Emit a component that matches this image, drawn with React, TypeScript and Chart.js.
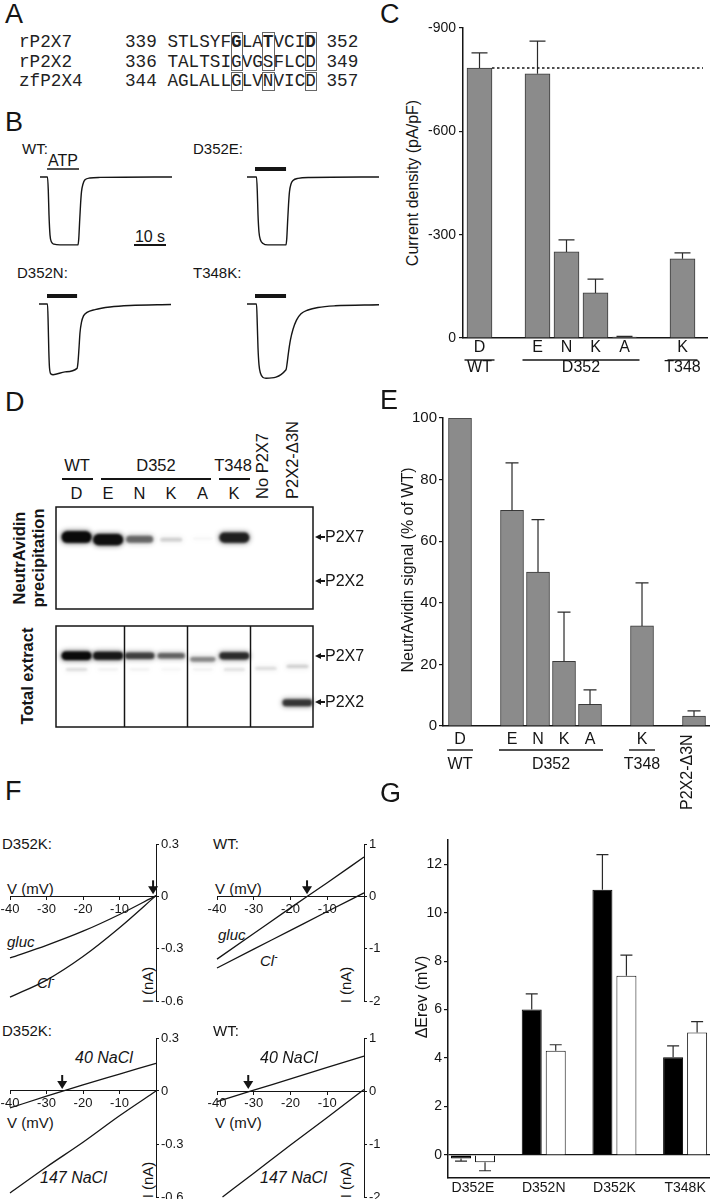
import React, { useEffect, useRef } from 'react';
import { Chart, registerables } from 'chart.js';

Chart.register(...registerables);

const SANS = '"Liberation Sans", Arial, Helvetica, sans-serif';
const MONO = '"Liberation Mono", "DejaVu Sans Mono", monospace';
const INK = '#151515';
const BAR = '#8b8b8b';
const BAR_EDGE = '#3a3a3a';
Chart.defaults.font.family = SANS;
Chart.defaults.color = INK;

// ---------- Panel A: alignment ----------
const seqNames = ['rP2X7', 'rP2X2', 'zfP2X4'];
const seqFirst = ['339', '336', '344'];
const seqLast = ['352', '349', '357'];
const seqResidues = ['STLSYFGLATVCID', 'TALTSIGVGSFLCD', 'AGLALLGLVNVICD'];
const alignedCols = [6, 9, 13];

// ---------- Panel B: ATP-evoked currents (normalised) ----------
const wtTime = [0, 2.34, 2.59, 2.81, 3.13, 3.59, 4.38, 6.25, 11.88, 12.13, 12.38, 12.66, 12.97, 13.44, 14.06, 15.63, 18.75, 41.25];
const wtCurrent = [0, 0, -0.19, -0.54, -0.83, -0.93, -0.96, -0.97, -0.97, -0.87, -0.64, -0.4, -0.21, -0.1, -0.04, -0.014, -0.006, 0];
const d352eTime = [0, 2.97, 3.22, 3.44, 3.75, 4.22, 5.0, 6.56, 12.19, 12.44, 12.69, 12.97, 13.28, 13.75, 14.38, 15.94, 19.69, 41.25];
const d352eCurrent = [0, 0, -0.21, -0.54, -0.79, -0.9, -0.95, -0.97, -0.97, -0.87, -0.64, -0.4, -0.21, -0.1, -0.05, -0.019, -0.007, 0];
const d352nTime = [0, 2.66, 2.88, 3.06, 3.28, 3.75, 4.38, 8.13, 11.88, 12.19, 12.5, 12.81, 13.28, 13.91, 15.0, 17.5, 22.19, 28.44, 41.25];
const d352nCurrent = [0, 0, -0.3, -0.66, -0.91, -1.0, -1.01, -0.97, -0.92, -0.83, -0.63, -0.41, -0.26, -0.17, -0.12, -0.08, -0.043, -0.021, -0.007];
const t348kTime = [0, 2.97, 3.22, 3.44, 3.75, 4.22, 5.0, 5.94, 12.19, 12.5, 12.97, 13.59, 14.38, 15.47, 16.88, 19.06, 22.19, 27.5, 41.25];
const t348kCurrent = [0, 0, -0.3, -0.63, -0.87, -0.99, -1.05, -1.06, -0.94, -0.86, -0.69, -0.51, -0.36, -0.23, -0.14, -0.086, -0.05, -0.026, -0.01];
const atpOn = [2.2, 2.5, 2.5, 2.5];
const atpOff = [12.2, 12.2, 11.9, 12.2];

// ---------- Panel C: current density ----------
const cCategories = ['D', '', 'E', 'N', 'K', 'A', '', 'K'];
const cDensity: (number | null)[] = [-784, null, -767, -250, -131, -3, null, -230];
const cSem: (number | null)[] = [44, null, 95, 35, 40, 2, null, 17];
const cGroupNames = ['WT', 'D352', 'T348'];
const cGroupFrom = [0, 2, 7];
const cGroupTo = [0, 5, 7];
const cYTicks = [-900, -600, -300, 0];

// ---------- Panel D: blots (band intensity 0-1, mobility in % of gel height) ----------
const blotLanes = ['D', 'E', 'N', 'K', 'A', 'K', 'No P2X7', 'P2X2-Δ3N'];
const precipP2X7 = [1.0, 0.97, 0.5, 0.14, 0.03, 0.85, 0, 0];
const precipP2X7Mobility = [29.5, 32, 31.5, 32, 31, 30, 30, 30];
const totalP2X7 = [1.0, 0.9, 0.68, 0.52, 0.38, 0.78, 0, 0];
const totalP2X7Mobility = [29.5, 29.5, 29.5, 29.5, 33, 29.5, 29.5, 29.5];
const totalMinor = [0.1, 0.04, 0.04, 0.03, 0.04, 0.09, 0.1, 0.14];
const totalMinorMobility = [43, 43, 43, 43, 43, 43, 42, 40];
const totalP2X2 = [0, 0, 0, 0, 0, 0, 0, 0.72];
const totalP2X2Mobility = [76, 76, 76, 76, 76, 76, 76, 76];
const blotDividers = [1.5, 3.5, 5.5];

// ---------- Panel E: surface expression ----------
const eCategories = ['D', '', 'E', 'N', 'K', 'A', '', 'K', '', 'P2X2-Δ3N'];
const eSignal: (number | null)[] = [100, null, 70, 50, 21, 7, null, 32.5, null, 3.2];
const eSem: (number | null)[] = [null, null, 15.4, 17, 16, 4.7, null, 14, null, 1.7];
const eGroupNames = ['WT', 'D352', 'T348'];
const eGroupFrom = [0, 2, 7];
const eGroupTo = [0, 5, 7];
const eRotated = [9];
const eYTicks = [0, 20, 40, 60, 80, 100];

// ---------- Panel F: I-V relations ----------
const ivVoltage = [-40, -30, -20, -10, 0];
const d352kGluc = [-0.353, -0.281, -0.2, -0.104, 0.004];
const d352kCl = [-0.578, -0.48, -0.345, -0.18, 0.004];
const wtGluc = [-1.2, -0.71, -0.22, 0.26, 0.75];
const wtCl = [-1.37, -1.01, -0.65, -0.29, 0.065];
const d352kNa40 = [-0.096, -0.029, 0.035, 0.096, 0.157];
const d352kNa147 = [-0.577, -0.43, -0.29, -0.14, 0.0];
const wtNa40 = [-0.2, 0.015, 0.23, 0.445, 0.66];
const wtNa147Voltage = [-38.5, -30, -20, -10, 0];
const wtNa147 = [-2.0, -1.55, -1.02, -0.5, 0.03];
const ivReversal = [-0.8, -15.5, -25.7, -31.5];
const ivXTicks = [-40, -30, -20, -10];
const d352kYTicks = [-0.6, -0.3, 0, 0.3];
const wtYTicks = [-2, -1, 0, 1];

// ---------- Panel G: reversal shifts ----------
const gCategories = ['D352E', 'D352N', 'D352K', 'T348K'];
const gGlucShift = [-0.15, 6.0, 10.95, 4.03];
const gGlucSem = [0.1, 0.65, 1.45, 0.47];
const gNaClShift = [-0.3, 4.3, 7.4, 5.05];
const gNaClSem = [0.35, 0.25, 0.85, 0.45];
const gYTicks = [0, 2, 4, 6, 8, 10, 12];

// ---------- plugins ----------
function errorBarsPlugin(cap: number) {
  return {
    id: 'errorBars',
    afterDatasetsDraw(chart: any) {
      const ctx = chart.ctx;
      const ys = chart.scales.y;
      chart.data.datasets.forEach((ds: any, di: number) => {
        const meta = chart.getDatasetMeta(di);
        (ds.errors || []).forEach((e: number | null, i: number) => {
          if (e == null) return;
          const el = meta.data[i];
          const v = ds.data[i].y;
          const end = ys.getPixelForValue(v + (v < 0 ? -e : e));
          ctx.save();
          ctx.strokeStyle = '#2a2a2a';
          ctx.lineWidth = 1.2;
          ctx.beginPath();
          ctx.moveTo(el.x, el.y);
          ctx.lineTo(el.x, end);
          ctx.moveTo(el.x - cap, end);
          ctx.lineTo(el.x + cap, end);
          ctx.stroke();
          ctx.restore();
        });
      });
    },
  };
}

function groupLinePlugin(from: number[], to: number[], offset: number, ext: number) {
  return {
    id: 'groupLines',
    afterDraw(chart: any) {
      const { ctx, chartArea } = chart;
      const xs = chart.scales.x;
      const y = chartArea.bottom + offset;
      ctx.save();
      ctx.strokeStyle = INK;
      ctx.lineWidth = 1.4;
      from.forEach((f, i) => {
        ctx.beginPath();
        ctx.moveTo(xs.getPixelForValue(f) - ext, y);
        ctx.lineTo(xs.getPixelForValue(to[i]) + ext, y);
        ctx.stroke();
      });
      ctx.restore();
    },
  };
}

function refLinePlugin(value: number) {
  return {
    id: 'refLine',
    afterDatasetsDraw(chart: any) {
      const { ctx, chartArea } = chart;
      const el = chart.getDatasetMeta(0).data[0];
      const yy = chart.scales.y.getPixelForValue(value);
      ctx.save();
      ctx.setLineDash([2.5, 2.5]);
      ctx.lineWidth = 1.5;
      ctx.strokeStyle = INK;
      ctx.beginPath();
      ctx.moveTo(el.x + el.width / 2, yy);
      ctx.lineTo(chartArea.right - 4, yy);
      ctx.stroke();
      ctx.restore();
    },
  };
}

function atpPlugin(on: number, off: number, width: number) {
  return {
    id: 'atpBar',
    afterDatasetsDraw(chart: any) {
      const { ctx } = chart;
      const xs = chart.scales.x;
      const yy = chart.scales.y.getPixelForValue(0) - 8;
      ctx.save();
      ctx.strokeStyle = INK;
      ctx.lineWidth = width;
      ctx.beginPath();
      ctx.moveTo(xs.getPixelForValue(on), yy);
      ctx.lineTo(xs.getPixelForValue(off), yy);
      ctx.stroke();
      ctx.restore();
    },
  };
}

function arrowPlugin(v: number) {
  return {
    id: 'revArrow',
    afterDatasetsDraw(chart: any) {
      const { ctx } = chart;
      const px = chart.scales.x.getPixelForValue(v);
      const tip = chart.scales.y.getPixelForValue(0) - 2;
      ctx.save();
      ctx.fillStyle = INK;
      ctx.fillRect(px - 1, tip - 14, 2, 7);
      ctx.beginPath();
      ctx.moveTo(px - 5, tip - 8);
      ctx.lineTo(px + 5, tip - 8);
      ctx.lineTo(px, tip);
      ctx.closePath();
      ctx.fill();
      ctx.restore();
    },
  };
}

function blotPlugin(dividers: number[], thick: number) {
  return {
    id: 'blot',
    beforeDatasetsDraw(chart: any) {
      const { ctx } = chart;
      chart.data.datasets.forEach((ds: any, di: number) => {
        const meta = chart.getDatasetMeta(di);
        meta.data.forEach((el: any, i: number) => {
          const a = ds.intensity[i];
          if (!a) return;
          const w = 20 + 10 * Math.min(1, a * 1.4);
          const h = 2.5 + thick * a;
          ctx.save();
          ctx.filter = 'blur(2.4px)';
          ctx.fillStyle = `rgba(10,10,10,${Math.min(1, a) * 0.55})`;
          ctx.beginPath();
          ctx.roundRect(el.x - w / 2 - 1, el.y - h / 2 - 1, w + 2, h + 2, (h + 2) / 2);
          ctx.fill();
          ctx.filter = 'blur(1.1px)';
          ctx.fillStyle = `rgba(10,10,10,${Math.min(1, a)})`;
          ctx.beginPath();
          ctx.roundRect(el.x - w / 2, el.y - h / 2, w, h, h / 2);
          ctx.fill();
          ctx.restore();
        });
      });
    },
    afterDraw(chart: any) {
      const { ctx, chartArea } = chart;
      const xs = chart.scales.x;
      ctx.save();
      ctx.strokeStyle = INK;
      ctx.lineWidth = 1.5;
      ctx.strokeRect(chartArea.left, chartArea.top, chartArea.right - chartArea.left, chartArea.bottom - chartArea.top);
      dividers.forEach((d) => {
        const x = Math.round(xs.getPixelForValue(d)) + 0.5;
        ctx.beginPath();
        ctx.moveTo(x, chartArea.top);
        ctx.lineTo(x, chartArea.bottom);
        ctx.stroke();
      });
      ctx.restore();
    },
  };
}

// ---------- helpers ----------
function buildCategoryTicks(cats: string[], names: string[], from: number[], to: number[], skip: number[] = []) {
  const entries: [number, string[]][] = [];
  cats.forEach((c, i) => {
    if (!c || skip.includes(i)) return;
    const g = names.findIndex((_, k) => from[k] === i && to[k] === i);
    entries.push([i, g >= 0 ? [c, names[g]] : [c]]);
  });
  names.forEach((n, k) => {
    if (from[k] !== to[k]) entries.push([(from[k] + to[k]) / 2, ['', n]]);
  });
  entries.sort((a, b) => a[0] - b[0]);
  return entries;
}
function lookupTick(entries: [number, string[]][], v: number) {
  const e = entries.find((t) => Math.abs(t[0] - v) < 1e-6);
  return e ? e[1] : '';
}

const baseOpts = { responsive: false, animation: false as const, events: [] as any[] };
const noLegend = { legend: { display: false }, tooltip: { enabled: false } };
const tickAxisGrid = { display: true, drawOnChartArea: false, drawTicks: true, tickLength: 4, color: INK, lineWidth: 1.2 };

function makeC() {
  const idx = cCategories.map((_, i) => i).filter((i) => cDensity[i] !== null);
  const ticks = buildCategoryTicks(cCategories, cGroupNames, cGroupFrom, cGroupTo);
  return {
    type: 'bar',
    data: {
      datasets: [{
        data: idx.map((i) => ({ x: i, y: cDensity[i] })),
        errors: idx.map((i) => cSem[i]),
        backgroundColor: BAR, borderColor: BAR_EDGE, borderWidth: 1, barThickness: 25,
      }],
    },
    options: {
      ...baseOpts,
      layout: { padding: { left: 20, right: 20, top: 20, bottom: 5 }, autoPadding: false },
      plugins: noLegend,
      scales: {
        x: {
          type: 'linear', offset: false, min: -0.569, max: 7.845,
          afterBuildTicks: (s: any) => { s.ticks = ticks.map(([v]) => ({ value: v })); },
          afterFit: (s: any) => { s.height = 45; },
          ticks: { autoSkip: false, maxRotation: 0, minRotation: 0, padding: 0, color: INK, font: { size: 16, lineHeight: 1.25 }, callback: (v: number) => lookupTick(ticks, v) },
          grid: { display: false, drawTicks: false },
          border: { display: true, color: INK, width: 1.5 },
        },
        y: {
          type: 'linear', min: -900, max: 0, reverse: true,
          afterBuildTicks: (s: any) => { s.ticks = cYTicks.map((v) => ({ value: v })); },
          afterFit: (s: any) => { s.width = 70; },
          ticks: { padding: 3, color: INK, font: { size: 14 }, callback: (v: number) => String(v) },
          grid: tickAxisGrid,
          border: { display: true, color: INK, width: 1.5 },
        },
      },
    },
    plugins: [errorBarsPlugin(8), refLinePlugin(cDensity[0] as number), groupLinePlugin(cGroupFrom, cGroupTo, 22, 15)],
  };
}

function makeE() {
  const idx = eCategories.map((_, i) => i).filter((i) => eSignal[i] !== null);
  const ticks = buildCategoryTicks(eCategories, eGroupNames, eGroupFrom, eGroupTo, eRotated);
  return {
    type: 'bar',
    data: {
      datasets: [{
        data: idx.map((i) => ({ x: i, y: eSignal[i] })),
        errors: idx.map((i) => eSem[i]),
        backgroundColor: BAR, borderColor: BAR_EDGE, borderWidth: 1, barThickness: 23,
      }],
    },
    options: {
      ...baseOpts,
      layout: { padding: { left: 20, right: 20, top: 20, bottom: 5 }, autoPadding: false },
      plugins: noLegend,
      scales: {
        x: {
          type: 'linear', offset: false, min: -0.654, max: 9.615,
          afterBuildTicks: (s: any) => { s.ticks = ticks.map(([v]) => ({ value: v })); },
          afterFit: (s: any) => { s.height = 50; },
          ticks: { autoSkip: false, maxRotation: 0, minRotation: 0, padding: 1.5, color: INK, font: { size: 16, lineHeight: 1.5625 }, callback: (v: number) => lookupTick(ticks, v) },
          grid: { display: false, drawTicks: false },
          border: { display: true, color: INK, width: 1.5 },
        },
        y: {
          type: 'linear', min: 0, max: 100,
          afterBuildTicks: (s: any) => { s.ticks = eYTicks.map((v) => ({ value: v })); },
          afterFit: (s: any) => { s.width = 63; },
          ticks: { padding: 2, color: INK, font: { size: 15 }, callback: (v: number) => String(v) },
          grid: tickAxisGrid,
          border: { display: true, color: INK, width: 1.5 },
        },
      },
    },
    plugins: [errorBarsPlugin(6.5), groupLinePlugin(eGroupFrom, eGroupTo, 24, 13)],
  };
}

function makeG() {
  const common = { categoryPercentage: 0.679, barPercentage: 0.833, borderWidth: 1 };
  return {
    type: 'bar',
    data: {
      datasets: [
        { ...common, data: gCategories.map((_, i) => ({ x: i, y: gGlucShift[i] })), errors: gGlucSem, backgroundColor: '#000', borderColor: '#000' },
        { ...common, data: gCategories.map((_, i) => ({ x: i, y: gNaClShift[i] })), errors: gNaClSem, backgroundColor: '#fff', borderColor: '#111' },
      ],
    },
    options: {
      ...baseOpts,
      layout: { padding: 20, autoPadding: false },
      plugins: noLegend,
      scales: {
        x: {
          type: 'linear', offset: false, min: -0.354, max: 3.352,
          afterBuildTicks: (s: any) => { s.ticks = gCategories.map((_, i) => ({ value: i })); },
          afterFit: (s: any) => { s.height = 25; },
          ticks: { autoSkip: false, maxRotation: 0, minRotation: 0, padding: 1.5, color: INK, font: { size: 14 }, callback: (v: number) => gCategories[Math.round(v)] ?? '' },
          grid: { display: false, drawTicks: false },
          border: { display: true, color: INK, width: 1.5 },
        },
        y: {
          type: 'linear', min: -0.95, max: 13,
          afterBuildTicks: (s: any) => { s.ticks = gYTicks.map((v) => ({ value: v })); },
          afterFit: (s: any) => { s.width = 68; },
          ticks: { padding: 2, color: INK, font: { size: 14 }, callback: (v: number) => String(v) },
          grid: {
            display: true, drawOnChartArea: true, drawTicks: true, tickLength: 4, lineWidth: 1.2, tickColor: INK,
            color: (c: any) => (c.tick && c.tick.value === 0 ? INK : 'rgba(0,0,0,0)'),
          },
          border: { display: true, color: INK, width: 1.5 },
        },
      },
    },
    plugins: [errorBarsPlugin(6)],
  };
}

function makeTrace(time: number[], current: number[], k: number, width: number) {
  return {
    type: 'scatter',
    data: {
      datasets: [{
        data: time.map((t, i) => ({ x: t, y: current[i] })),
        showLine: true, borderColor: INK, borderWidth: 1.4, pointRadius: 0,
        cubicInterpolationMode: 'monotone', clip: false,
      }],
    },
    options: {
      ...baseOpts,
      layout: { padding: 4, autoPadding: false },
      plugins: noLegend,
      scales: {
        x: { type: 'linear', display: false, min: 0, max: 41.25 },
        y: { type: 'linear', display: false, min: -1.1, max: 0.3 },
      },
    },
    plugins: [atpPlugin(atpOn[k], atpOff[k], width)],
  };
}

function makeIV(series: { v: number[]; i: number[] }[], yMin: number, yMax: number, yTicks: number[], rev: number) {
  const axisGrid = { display: true, drawOnChartArea: false, drawTicks: true, tickLength: 3, color: INK, lineWidth: 1 };
  return {
    type: 'scatter',
    data: {
      datasets: series.map((s) => ({
        data: s.v.map((x, k) => ({ x, y: s.i[k] })),
        showLine: true, borderColor: INK, borderWidth: 1.3, pointRadius: 0,
        cubicInterpolationMode: 'monotone', clip: false,
      })),
    },
    options: {
      ...baseOpts,
      layout: { padding: 20, autoPadding: false },
      plugins: noLegend,
      scales: {
        x: {
          type: 'linear', position: { y: 0 }, min: -40, max: 0,
          afterBuildTicks: (s: any) => { s.ticks = ivXTicks.map((v) => ({ value: v })); },
          ticks: { autoSkip: false, maxRotation: 0, minRotation: 0, padding: 2, color: INK, font: { size: 13 }, callback: (v: number) => String(v) },
          grid: axisGrid,
          border: { display: true, color: INK, width: 1 },
        },
        y: {
          type: 'linear', position: 'right', min: yMin, max: yMax,
          afterBuildTicks: (s: any) => { s.ticks = yTicks.map((v) => ({ value: v })); },
          afterFit: (s: any) => { s.width = 30; },
          ticks: { padding: 2, color: INK, font: { size: 13 }, callback: (v: number) => String(v) },
          grid: axisGrid,
          border: { display: true, color: INK, width: 1 },
        },
      },
    },
    plugins: [arrowPlugin(rev)],
  };
}

function makeBlot(rows: number[][], mobility: number[][], dividers: number[], thick: number) {
  return {
    type: 'scatter',
    data: {
      datasets: rows.map((r, k) => ({
        data: blotLanes.map((_, i) => ({ x: i, y: mobility[k][i] })),
        intensity: r, pointRadius: 0, showLine: false,
      })),
    },
    options: {
      ...baseOpts,
      layout: { padding: 4, autoPadding: false },
      plugins: noLegend,
      scales: {
        x: { type: 'linear', display: false, min: -0.651, max: 7.492 },
        y: { type: 'linear', display: false, min: 0, max: 100, reverse: true },
      },
    },
    plugins: [blotPlugin(dividers, thick)],
  };
}

// ---------- components ----------
function ChartBox({ left, top, width, height, make }: { left: number; top: number; width: number; height: number; make: () => any }) {
  const ref = useRef<HTMLCanvasElement>(null);
  useEffect(() => {
    const chart = new Chart(ref.current as HTMLCanvasElement, make());
    return () => chart.destroy();
  }, []);
  return <canvas ref={ref} width={width} height={height} style={{ position: 'absolute', left, top, width, height }} />;
}

function Txt({ x, y, size = 15, align = 'left', bold, italic, children }: any) {
  const tx = align === 'center' ? '-50%' : align === 'right' ? '-100%' : '0';
  return (
    <div style={{ position: 'absolute', left: x, top: y, fontSize: size, lineHeight: 1, whiteSpace: 'nowrap', fontWeight: bold ? 'bold' : 'normal', fontStyle: italic ? 'italic' : 'normal', transform: `translate(${tx}, -50%)` }}>
      {children}
    </div>
  );
}

function VTxt({ x, y, size = 16, bold, children }: any) {
  return (
    <div style={{ position: 'absolute', left: x, top: y, fontSize: size, lineHeight: 1, whiteSpace: 'nowrap', fontWeight: bold ? 'bold' : 'normal', transform: 'translate(-50%, -50%) rotate(-90deg)' }}>
      {children}
    </div>
  );
}

// text that starts at (x, y) and runs upwards
function UpTxt({ x, y, size = 16, children }: any) {
  return (
    <div style={{ position: 'absolute', left: x, top: y, fontSize: size, lineHeight: 1, whiteSpace: 'nowrap', transformOrigin: '0 50%', transform: 'translate(0, -50%) rotate(-90deg)' }}>
      {children}
    </div>
  );
}

function HLine({ x, y, w, h = 1.4 }: any) {
  return <div style={{ position: 'absolute', left: x, top: y - h / 2, width: w, height: h, background: INK }} />;
}

function Letter({ x, y, children }: any) {
  return <div style={{ position: 'absolute', left: x, top: y, fontSize: 27, lineHeight: 1 }}>{children}</div>;
}

function BandLabel({ y, name }: any) {
  return (
    <>
      <div style={{ position: 'absolute', left: 315, top: y - 3, width: 0, height: 0, borderTop: '3px solid transparent', borderBottom: '3px solid transparent', borderRight: `6px solid ${INK}` }} />
      <div style={{ position: 'absolute', left: 320, top: y - 0.6, width: 5, height: 1.2, background: INK }} />
      <Txt x={325} y={y} size={16}>{name}</Txt>
    </>
  );
}

const CW = 10.6; // monospace cell width at 17.67px
const laneX = (i: number) => 76.5 + 31.5 * i;

export default function App() {
  return (
    <div style={{ position: 'absolute', left: 0, top: 0, width: 710, height: 1199, overflow: 'hidden', background: '#fff', color: INK, fontFamily: SANS }}>
      {/* Panel A */}
      <Letter x={5} y={0.5}>A</Letter>
      {seqNames.map((n, r) => (
        <div key={n} style={{ position: 'absolute', left: 19, top: 32 + r * 19.5, fontFamily: MONO, fontSize: 17.67, lineHeight: '20px', whiteSpace: 'pre', color: '#222' }}>
          {n.padEnd(10)}{seqFirst[r]}{' '}
          {[...seqResidues[r]].map((ch, k) => (
            <span key={k} style={{ fontWeight: r === 0 && alignedCols.includes(k) ? 'bold' : 'normal' }}>{ch}</span>
          ))}
          {' '}{seqLast[r]}
        </div>
      ))}
      {alignedCols.map((c) => (
        <React.Fragment key={c}>
          <div style={{ position: 'absolute', left: 19 + (14 + c) * CW - 0.5, top: 32, width: CW, height: 37, border: '1px solid #666' }} />
          <div style={{ position: 'absolute', left: 19 + (14 + c) * CW - 0.5, top: 72, width: CW, height: 17, border: '1px solid #666' }} />
        </React.Fragment>
      ))}

      {/* Panel B */}
      <Letter x={5} y={108.5}>B</Letter>
      <Txt x={22} y={148}>WT:</Txt>
      <Txt x={63} y={161} size={16} align="center">ATP</Txt>
      <Txt x={193} y={148}>D352E:</Txt>
      <Txt x={17} y={272}>D352N:</Txt>
      <Txt x={193} y={272}>T348K:</Txt>
      <Txt x={150} y={237} size={16} align="center">10 s</Txt>
      <HLine x={134} y={245} w={32} h={2} />
      <ChartBox left={36} top={152} width={140} height={106} make={() => makeTrace(wtTime, wtCurrent, 0, 1.6)} />
      <ChartBox left={243} top={152} width={140} height={106} make={() => makeTrace(d352eTime, d352eCurrent, 1, 4)} />
      <ChartBox left={35} top={279} width={140} height={106} make={() => makeTrace(d352nTime, d352nCurrent, 2, 4)} />
      <ChartBox left={243} top={279} width={140} height={106} make={() => makeTrace(t348kTime, t348kCurrent, 3, 4)} />

      {/* Panel C */}
      <Letter x={380} y={0.5}>C</Letter>
      <VTxt x={413} y={183} size={16}>Current density (pA/pF)</VTxt>
      <ChartBox left={373} top={8} width={354} height={380} make={makeC} />

      {/* Panel D */}
      <Letter x={5} y={388.5}>D</Letter>
      <Txt x={77} y={465} size={16.5} align="center">WT</Txt>
      <HLine x={62} y={479} w={31} />
      <Txt x={156} y={465} size={16.5} align="center">D352</Txt>
      <HLine x={101} y={479} w={110} />
      <Txt x={233} y={465} size={16.5} align="center">T348</Txt>
      <HLine x={219} y={479} w={31} />
      {blotLanes.slice(0, 6).map((l, i) => (
        <Txt key={i} x={laneX(i)} y={493} size={16.5} align="center">{l}</Txt>
      ))}
      <UpTxt x={262} y={499} size={16.5}>{blotLanes[6]}</UpTxt>
      <UpTxt x={292} y={499} size={16.5}>{blotLanes[7]}</UpTxt>
      <VTxt x={19} y={558} size={16.5} bold>NeutrAvidin</VTxt>
      <VTxt x={38} y={558} size={16.5} bold>precipitation</VTxt>
      <VTxt x={27} y={676} size={16.5} bold>Total extract</VTxt>
      <ChartBox left={52} top={503} width={265} height={110}
        make={() => makeBlot([precipP2X7], [precipP2X7Mobility], [], 9)} />
      <ChartBox left={52} top={622} width={265} height={109}
        make={() => makeBlot([totalP2X7, totalMinor, totalP2X2], [totalP2X7Mobility, totalMinorMobility, totalP2X2Mobility], blotDividers, 6)} />
      <BandLabel y={537} name="P2X7" />
      <BandLabel y={581} name="P2X2" />
      <BandLabel y={656} name="P2X7" />
      <BandLabel y={702} name="P2X2" />

      {/* Panel E */}
      <Letter x={380} y={386.5}>E</Letter>
      <VTxt x={408} y={570} size={16}>NeutrAvidin signal (% of WT)</VTxt>
      <ChartBox left={360} top={398} width={370} height={383} make={makeE} />
      <UpTxt x={687} y={810} size={16}>{eCategories[9]}</UpTxt>

      {/* Panel F */}
      <Letter x={5} y={777.5}>F</Letter>
      <Txt x={2} y={843}>D352K:</Txt>
      <Txt x={213} y={843}>WT:</Txt>
      <Txt x={7} y={888}>V (mV)</Txt>
      <Txt x={215} y={888}>V (mV)</Txt>
      <Txt x={7} y={941} italic>gluc</Txt>
      <Txt x={37} y={982} italic>Cl<sup style={{ fontSize: 10 }}>-</sup></Txt>
      <Txt x={218} y={934} italic>gluc</Txt>
      <Txt x={260} y={960} italic>Cl<sup style={{ fontSize: 10 }}>-</sup></Txt>
      <VTxt x={147} y={985} size={15}>I (nA)</VTxt>
      <VTxt x={345} y={985} size={15}>I (nA)</VTxt>
      <ChartBox left={-10} top={824} width={216} height={197} make={() => makeIV([{ v: ivVoltage, i: d352kGluc }, { v: ivVoltage, i: d352kCl }], -0.6, 0.3, d352kYTicks, ivReversal[0])} />
      <ChartBox left={197} top={824} width={217} height={197} make={() => makeIV([{ v: ivVoltage, i: wtGluc }, { v: ivVoltage, i: wtCl }], -2, 1, wtYTicks, ivReversal[1])} />

      <Txt x={2} y={1030}>D352K:</Txt>
      <Txt x={213} y={1030}>WT:</Txt>
      <Txt x={7} y={1122}>V (mV)</Txt>
      <Txt x={215} y={1122}>V (mV)</Txt>
      <Txt x={75} y={1058} size={16} italic>40 NaCl</Txt>
      <Txt x={40} y={1178} size={16} italic>147 NaCl</Txt>
      <Txt x={260} y={1058} size={16} italic>40 NaCl</Txt>
      <Txt x={260} y={1178} size={16} italic>147 NaCl</Txt>
      <VTxt x={147} y={1180} size={15}>I (nA)</VTxt>
      <VTxt x={345} y={1180} size={15}>I (nA)</VTxt>
      <ChartBox left={-10} top={1018} width={216} height={199} make={() => makeIV([{ v: ivVoltage, i: d352kNa40 }, { v: ivVoltage, i: d352kNa147 }], -0.6, 0.3, d352kYTicks, ivReversal[2])} />
      <ChartBox left={197} top={1018} width={217} height={199} make={() => makeIV([{ v: ivVoltage, i: wtNa40 }, { v: wtNa147Voltage, i: wtNa147 }], -2, 1, wtYTicks, ivReversal[3])} />

      {/* Panel G */}
      <Letter x={380} y={779.5}>G</Letter>
      <VTxt x={422} y={997} size={16}>ΔErev (mV)</VTxt>
      <ChartBox left={360} top={820} width={370} height={403} make={makeG} />
    </div>
  );
}
